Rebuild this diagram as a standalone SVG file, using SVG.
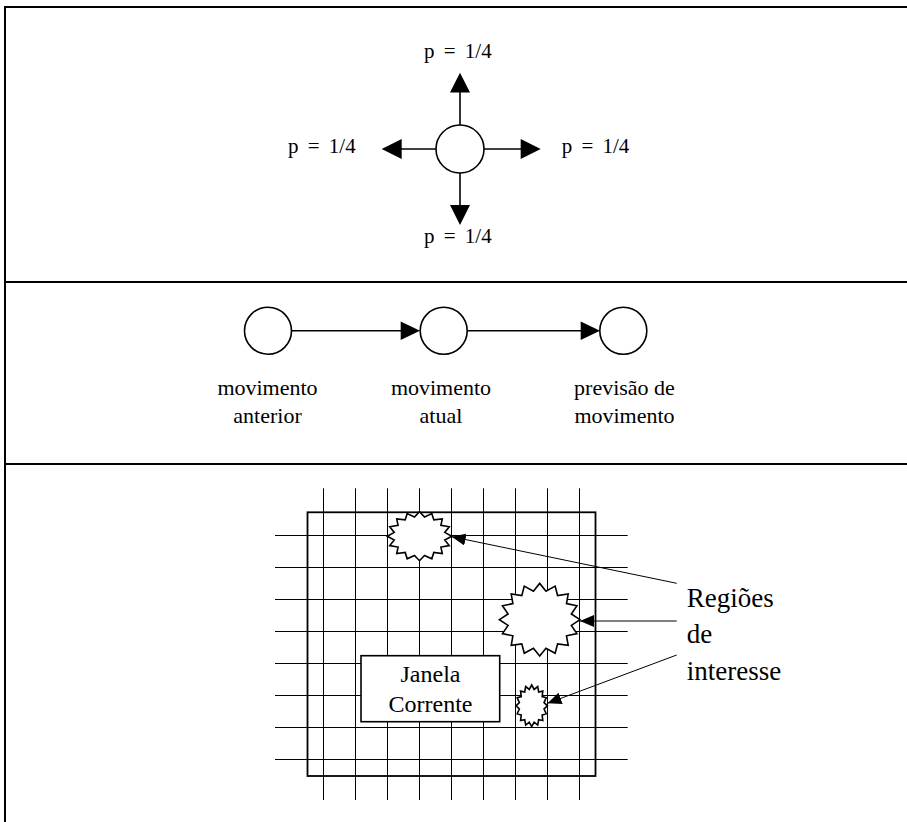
<svg xmlns="http://www.w3.org/2000/svg" xmlns:xlink="http://www.w3.org/1999/xlink" width="907" height="822" viewBox="0 0 907 822">
<style>
  .frame { stroke: #000; stroke-width: 2; fill: none; }
  .node { fill: #fff; stroke: #000; stroke-width: 1.6; }
  .edge { stroke: #000; stroke-width: 1.6; fill: none; }
  .head { fill: #000; stroke: none; }
  .grid line { stroke: #000; stroke-width: 1; }
  .lead { stroke: #000; stroke-width: 1; fill: none; marker-end: url(#ah); }
  .t { font-family: "Liberation Serif", "Times New Roman", serif; fill: #000; }
  .p { font-size: 21px; word-spacing: 4px; }
  .m { font-size: 22px; text-anchor: middle; }
  .j { font-size: 24px; text-anchor: middle; }
  .r { font-size: 27px; }
</style>
<defs>
  <marker id="ah" markerUnits="userSpaceOnUse" markerWidth="14" markerHeight="12" refX="14" refY="6" orient="auto">
    <path d="M0,0 L14,6 L0,12 z" fill="#000"/>
  </marker>
  <polygon id="star" vector-effect="non-scaling-stroke" fill="#fff" stroke="#000" stroke-width="1.6" points="100,0 78.5,15.6 92.4,38.3 66.5,44.4 70.7,70.7 44.4,66.5 38.3,92.4 15.6,78.5 0,100 -15.6,78.5 -38.3,92.4 -44.4,66.5 -70.7,70.7 -66.5,44.4 -92.4,38.3 -78.5,15.6 -100,0 -78.5,-15.6 -92.4,-38.3 -66.5,-44.4 -70.7,-70.7 -44.4,-66.5 -38.3,-92.4 -15.6,-78.5 0,-100 15.6,-78.5 38.3,-92.4 44.4,-66.5 70.7,-70.7 66.5,-44.4 92.4,-38.3 78.5,-15.6"/>
</defs>
<rect width="907" height="822" fill="#fff"/>

<g id="frame" class="frame">
  <line x1="4" y1="7" x2="907" y2="7"/>
  <line x1="5" y1="6" x2="5" y2="822"/>
  <line x1="5" y1="282" x2="907" y2="282"/>
  <line x1="5" y1="464" x2="907" y2="464"/>
</g>

<!-- Panel 1 -->
<g id="connectors-top">
  <line class="edge" x1="460" y1="125" x2="460" y2="92"/>
  <polygon class="head" points="460,72.7 450,92.5 470,92.5"/>
  <line class="edge" x1="460" y1="173" x2="460" y2="206"/>
  <polygon class="head" points="460,225 450,205 470,205"/>
  <line class="edge" x1="436" y1="149" x2="401" y2="149"/>
  <polygon class="head" points="381.7,149 401.7,139 401.7,159"/>
  <line class="edge" x1="484" y1="149" x2="521" y2="149"/>
  <polygon class="head" points="540.7,149 520.7,139 520.7,159"/>
</g>
<g id="node-center">
  <circle class="node" cx="460" cy="149" r="24"/>
</g>
<g id="labels-top" class="t p">
  <text x="424" y="58">p = 1/4</text>
  <text x="288" y="153">p = 1/4</text>
  <text x="561.7" y="153">p = 1/4</text>
  <text x="424" y="243">p = 1/4</text>
</g>

<!-- Panel 2 -->
<g id="connectors-middle">
  <line class="edge" x1="291.5" y1="330.7" x2="401" y2="330.7"/>
  <polygon class="head" points="420,330.7 400.7,321.5 400.7,340"/>
  <line class="edge" x1="467" y1="330.7" x2="581" y2="330.7"/>
  <polygon class="head" points="600,330.7 580.7,321.5 580.7,340"/>
</g>
<g id="node-anterior">
  <circle class="node" cx="268" cy="330.7" r="23.5"/>
  <text class="t m" x="267.5" y="395">movimento</text>
  <text class="t m" x="267.5" y="423.3">anterior</text>
</g>
<g id="node-atual">
  <circle class="node" cx="443.7" cy="330.7" r="23.5"/>
  <text class="t m" x="441" y="395">movimento</text>
  <text class="t m" x="441" y="423.3">atual</text>
</g>
<g id="node-previsao">
  <circle class="node" cx="623.3" cy="330.7" r="23.5"/>
  <text class="t m" x="624.5" y="395">previsão de</text>
  <text class="t m" x="624.5" y="423.3">movimento</text>
</g>

<!-- Panel 3 -->
<g id="grid" class="grid">
  <line x1="275" y1="535.5" x2="627.7" y2="535.5"/>
  <line x1="275" y1="567.5" x2="627.7" y2="567.5"/>
  <line x1="275" y1="599.5" x2="627.7" y2="599.5"/>
  <line x1="275" y1="631.5" x2="627.7" y2="631.5"/>
  <line x1="275" y1="663.5" x2="627.7" y2="663.5"/>
  <line x1="275" y1="695.5" x2="627.7" y2="695.5"/>
  <line x1="275" y1="727.5" x2="627.7" y2="727.5"/>
  <line x1="275" y1="759.5" x2="627.7" y2="759.5"/>
  <line x1="323.5" y1="488.3" x2="323.5" y2="800"/>
  <line x1="355.5" y1="488.3" x2="355.5" y2="800"/>
  <line x1="387.5" y1="488.3" x2="387.5" y2="800"/>
  <line x1="419.5" y1="488.3" x2="419.5" y2="800"/>
  <line x1="451.5" y1="488.3" x2="451.5" y2="800"/>
  <line x1="483.5" y1="488.3" x2="483.5" y2="800"/>
  <line x1="515.5" y1="488.3" x2="515.5" y2="800"/>
  <line x1="547.5" y1="488.3" x2="547.5" y2="800"/>
  <line x1="579.5" y1="488.3" x2="579.5" y2="800"/>
</g>
<g id="area">
  <rect x="307.5" y="512.3" width="288" height="263.7" fill="none" stroke="#000" stroke-width="1.8"/>
</g>
<g id="node-janela">
  <rect class="node" x="361" y="655.7" width="138.7" height="66"/>
  <text class="t j" x="430.5" y="681.7">Janela</text>
  <text class="t j" x="430.5" y="711.7">Corrente</text>
</g>
<g id="node-region1">
  <use xlink:href="#star" href="#star" transform="translate(419.5,536.2) scale(0.322,0.245)"/>
</g>
<g id="node-region2">
  <use xlink:href="#star" href="#star" transform="translate(539.7,619.7) scale(0.403,0.363)"/>
</g>
<g id="node-region3">
  <use xlink:href="#star" href="#star" transform="translate(531.7,705.8) scale(0.157,0.208)"/>
</g>
<g id="connectors-bottom">
  <line class="lead" x1="676.7" y1="583.3" x2="451.7" y2="536.7"/>
  <line class="lead" x1="676.7" y1="621" x2="580" y2="621"/>
  <line class="lead" x1="676.7" y1="655" x2="547.5" y2="703.3"/>
</g>
<g id="node-regioes" class="t r">
  <text x="686.7" y="606.7">Regiões</text>
  <text x="686.7" y="643.3">de</text>
  <text x="686.7" y="680">interesse</text>
</g>
</svg>
